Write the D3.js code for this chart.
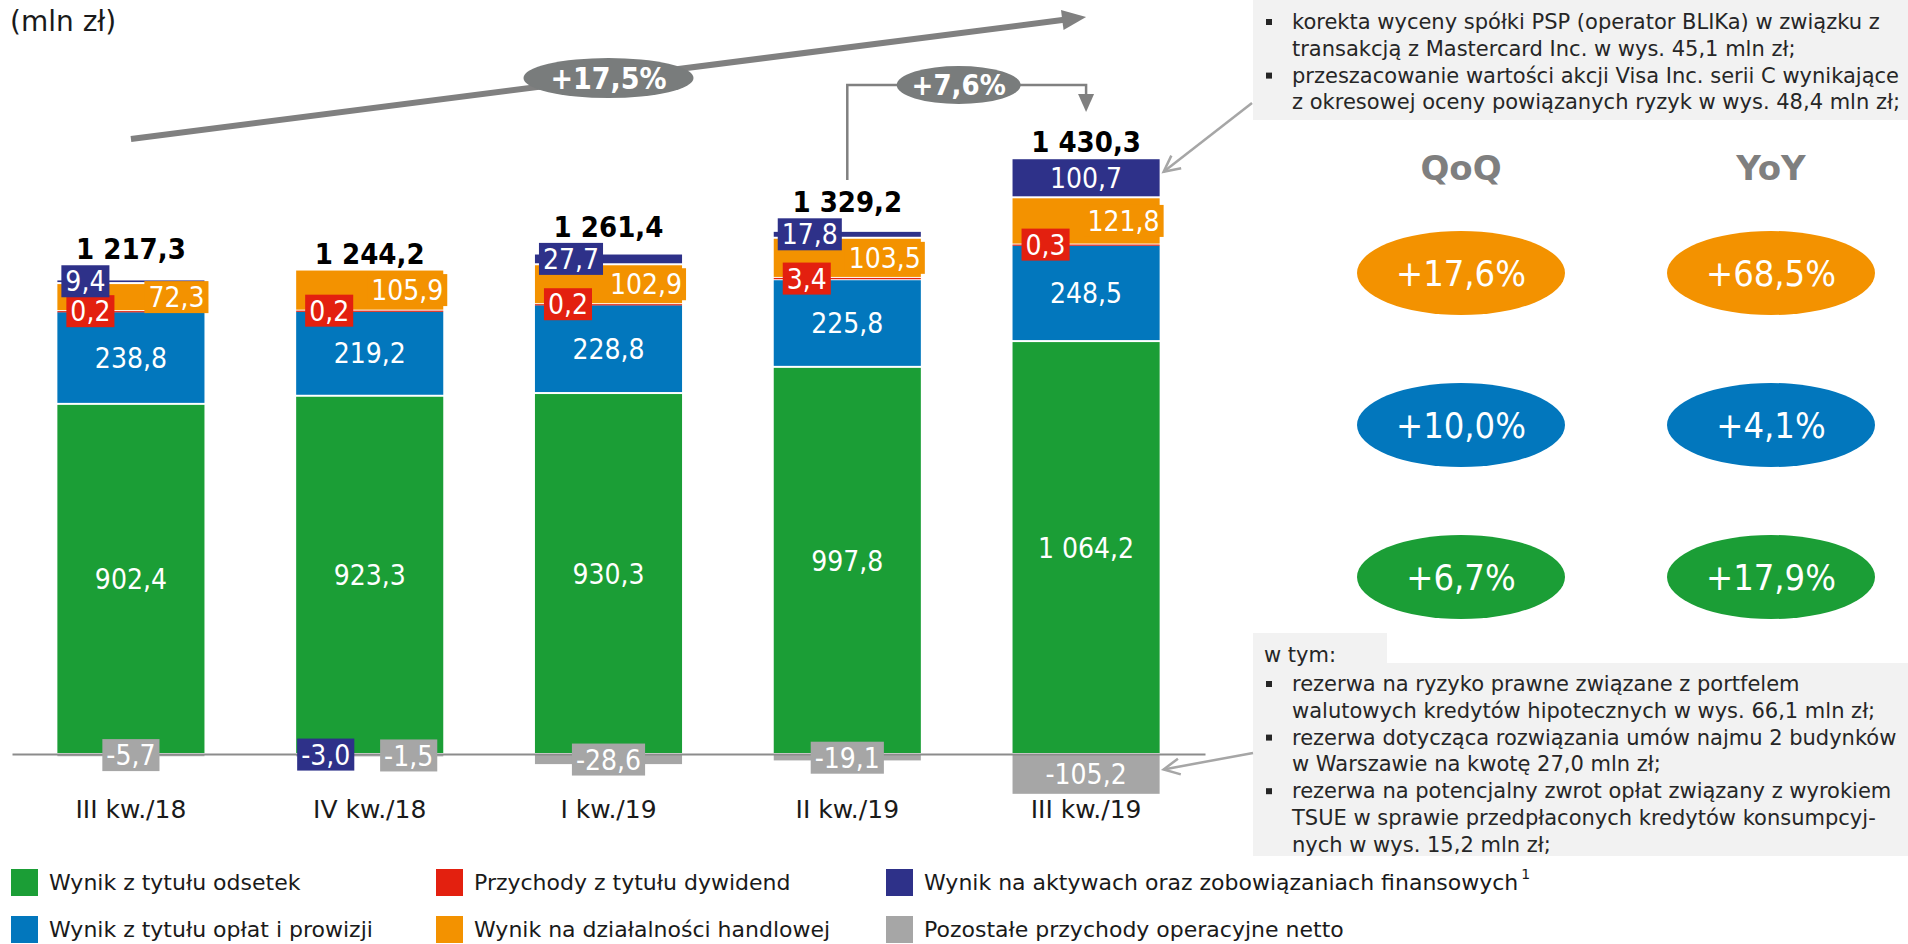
<!DOCTYPE html>
<html><head><meta charset="utf-8">
<script src="https://cdn.jsdelivr.net/npm/d3@7"></script>
<style>
html,body{margin:0;padding:0;background:#fff;}
svg{display:block;font-family:'DejaVu Sans Condensed','DejaVu Sans',sans-serif;}
</style></head><body>
<svg id="chart" width="1908" height="944"></svg>
<script>
// ---------- data ----------
const categories = ["III kw./18", "IV kw./18", "I kw./19", "II kw./19", "III kw./19"];
const odsetek   = [902.4, 923.3, 930.3, 997.8, 1064.2];
const prowizje  = [238.8, 219.2, 228.8, 225.8, 248.5];
const dywidendy = [0.2, 0.2, 0.2, 3.4, 0.3];
const handlowa  = [72.3, 105.9, 102.9, 103.5, 121.8];
const aktywa    = [9.4, -3.0, 27.7, 17.8, 100.7];
const pozostale = [-5.7, -1.5, -28.6, -19.1, -105.2];
const totals    = [1217.3, 1244.2, 1261.4, 1329.2, 1430.3];

const growthTotal = "+17,5%";
const growthQoQ = "+7,6%";
const panelHeaders = ["QoQ", "YoY"];
const qoqValues = ["+17,6%", "+10,0%", "+6,7%"];
const yoyValues = ["+68,5%", "+4,1%", "+17,9%"];

const seriesNames = {
  odsetek: "Wynik z tytułu odsetek",
  prowizje: "Wynik z tytułu opłat i prowizji",
  dywidendy: "Przychody z tytułu dywidend",
  handlowa: "Wynik na działalności handlowej",
  aktywa: "Wynik na aktywach oraz zobowiązaniach finansowych",
  pozostale: "Pozostałe przychody operacyjne netto"
};
const legendRow1 = ["odsetek", "dywidendy", "aktywa"];
const legendRow2 = ["prowizje", "handlowa", "pozostale"];

const noteTop = [
  ["korekta wyceny spółki PSP (operator BLIKa) w związku z", "transakcją z Mastercard Inc. w wys. 45,1 mln zł;"],
  ["przeszacowanie wartości akcji Visa Inc. serii C wynikające", "z okresowej oceny powiązanych ryzyk w wys. 48,4 mln zł;"]
];
const noteBottomHead = "w tym:";
const noteBottom = [
  ["rezerwa na ryzyko prawne związane z portfelem", "walutowych kredytów hipotecznych w wys. 66,1 mln zł;"],
  ["rezerwa dotycząca rozwiązania umów najmu 2 budynków", "w Warszawie na kwotę 27,0 mln zł;"],
  ["rezerwa na potencjalny zwrot opłat związany z wyrokiem", "TSUE w sprawie przedpłaconych kredytów konsumpcyj-", "nych w wys. 15,2 mln zł;"]
];
const unitLabel = "(mln zł)";

// ---------- styles ----------
const colors = {
  odsetek: "#1b9e36", prowizje: "#0277bd", dywidendy: "#e3200f",
  handlowa: "#f39200", aktywa: "#2e3189", pozostale: "#a6a6a6"
};
const keys = ["odsetek", "prowizje", "dywidendy", "handlowa", "aktywa", "pozostale"];
const FONT = "'DejaVu Sans Condensed','DejaVu Sans',sans-serif";
const FONTW = "'DejaVu Sans','Verdana',sans-serif";

const svg = d3.select("#chart");
svg.append("rect").attr("width", 1908).attr("height", 944).attr("fill", "#fff");

const pl = d3.formatLocale({decimal: ",", thousands: " ", grouping: [3], currency: ["", " zł"], minus: "-"});
const fmt = pl.format(",.1f");

// ---------- scales ----------
const x = d3.scaleBand().domain(categories).range([12, 1205]).paddingInner(0.384).paddingOuter(0.19);
const y = d3.scaleLinear().domain([0, 1500]).range([754, 172]);
const bw = x.bandwidth();

const rows = categories.map((c, i) => ({
  cat: c, odsetek: odsetek[i], prowizje: prowizje[i], dywidendy: dywidendy[i],
  handlowa: handlowa[i], aktywa: aktywa[i], pozostale: pozostale[i]
}));
const stacked = d3.stack().keys(keys).offset(d3.stackOffsetDiverging)(rows);

// ---------- bars ----------
const gBars = svg.append("g");
stacked.forEach(layer => {
  gBars.selectAll(null).data(layer).enter().append("rect")
    .attr("x", d => x(d.data.cat))
    .attr("width", bw)
    .attr("y", d => {
      const top = y(Math.max(d[0], d[1])), bot = y(Math.min(d[0], d[1]));
      return (bot - top) > 3 ? top + 1 : top;
    })
    .attr("height", d => {
      const h = Math.abs(y(d[0]) - y(d[1]));
      return h > 3 ? h - 2 : Math.max(h, 1.2);
    })
    .attr("fill", colors[layer.key]);
});

// ---------- axis ----------
const gx = svg.append("g").attr("transform", `translate(0,${y(0)})`)
  .call(d3.axisBottom(x).tickSize(0).tickSizeOuter(0).tickPadding(46));
gx.attr("font-family", FONTW).attr("font-size", 25);
gx.select(".domain").attr("stroke", "#8c8c8c").attr("stroke-width", 2.2);
gx.selectAll(".tick text").attr("fill", "#1a1a1a");

// ---------- segment labels ----------
const gLab = svg.append("g").attr("font-size", 28).attr("font-family", FONT);
const minTop = categories.map((c, i) => {
  let t = y(0);
  stacked.forEach(l => { t = Math.min(t, y(Math.max(l[i][0], l[i][1]))); });
  return t;
});
const BOXH = 32, PAD = 4;
function plain(text, cx, cy) {
  gLab.append("text").text(text).attr("x", cx).attr("y", cy).attr("dy", "0.36em")
    .attr("text-anchor", "middle").attr("fill", "#fff");
}
function boxed(text, color, ax, anchor, cy, i) {
  const g = gLab.append("g");
  const r = g.append("rect").attr("fill", color);
  const t = g.append("text").text(text).attr("fill", "#fff").attr("text-anchor", "middle")
    .attr("y", cy).attr("dy", "0.36em");
  const w = t.node().getComputedTextLength() + 2 * PAD;
  const left = anchor === "start" ? ax : anchor === "middle" ? ax - w / 2 : ax - w;
  r.attr("x", left).attr("y", cy - BOXH / 2).attr("width", w).attr("height", BOXH);
  t.attr("x", left + w / 2);
  minTop[i] = Math.min(minTop[i], cy - BOXH / 2);
}
stacked.forEach(layer => {
  const k = layer.key;
  layer.forEach((d, i) => {
    const v = d.data[k];
    if (!v) return;
    const top = y(Math.max(d[0], d[1])), bot = y(Math.min(d[0], d[1]));
    const cy = (top + bot) / 2, h = bot - top;
    const bx0 = x(d.data.cat), bx1 = bx0 + bw, cx = bx0 + bw / 2;
    const txt = fmt(v);
    if (k === "odsetek" || k === "prowizje") plain(txt, cx, cy);
    else if (k === "handlowa") boxed(txt, colors[k], bx1 + 4, "end", cy, i);
    else if (k === "dywidendy") boxed(txt, colors[k], bx0 + 9, "start", cy, i);
    else if (k === "aktywa") {
      if (h >= 30) plain(txt, cx, cy);
      else if (v < 0) boxed(txt, colors[k], bx0 + 1, "start", cy, i);
      else boxed(txt, colors[k], bx0 + 4, "start", cy, i);
    } else if (k === "pozostale") {
      if (h >= 30) plain(txt, cx, cy);
      else if (d.data.aktywa < 0) boxed(txt, colors[k], bx1 - 6, "end", cy, i);
      else boxed(txt, colors[k], cx, "middle", cy, i);
    }
  });
});

// ---------- totals ----------
svg.append("g").attr("font-family", FONT).attr("font-size", 29).attr("font-weight", "bold")
  .selectAll("text").data(totals).enter().append("text")
  .attr("x", (d, i) => x(categories[i]) + bw / 2)
  .attr("y", (d, i) => minTop[i] - 6)
  .attr("text-anchor", "middle").attr("fill", "#000")
  .text(d => fmt(d));

// ---------- growth arrows ----------
const cxs = categories.map(c => x(c) + bw / 2);
const gArr = svg.append("g");
function arrowHead(g, tipX, tipY, fromX, fromY, len, half, color, filled, sw) {
  const ang = Math.atan2(tipY - fromY, tipX - fromX);
  const bx = tipX - len * Math.cos(ang), by = tipY - len * Math.sin(ang);
  const px = -Math.sin(ang) * half, py = Math.cos(ang) * half;
  if (filled) {
    g.append("path").attr("d", `M${tipX},${tipY}L${bx + px},${by + py}L${bx - px},${by - py}Z`).attr("fill", color);
  } else {
    g.append("path").attr("d", `M${bx + px},${by + py}L${tipX},${tipY}L${bx - px},${by - py}`)
      .attr("fill", "none").attr("stroke", color).attr("stroke-width", sw);
  }
}
const a0 = [cxs[0], 139], a1 = [cxs[4], 17];
gArr.append("line").attr("x1", a0[0]).attr("y1", a0[1]).attr("x2", a1[0] - 18).attr("y2", a1[1] + 2.3)
  .attr("stroke", "#808080").attr("stroke-width", 6);
arrowHead(gArr, a1[0], a1[1], a0[0], a0[1], 24, 10, "#808080", true);
const mx = (a0[0] + a1[0]) / 2, my = (a0[1] + a1[1]) / 2;
gArr.append("ellipse").attr("cx", mx).attr("cy", my).attr("rx", 85).attr("ry", 20).attr("fill", "#797c7c");
gArr.append("text").attr("x", mx).attr("y", my).attr("dy", "0.36em").attr("text-anchor", "middle")
  .attr("font-family", FONT).attr("font-weight", "bold").attr("font-size", 30).attr("fill", "#fff").text(growthTotal);
const cy0 = 85;
gArr.append("path").attr("d", `M${cxs[3]},180V${cy0}H${cxs[4]}V98`)
  .attr("fill", "none").attr("stroke", "#808080").attr("stroke-width", 2.5);
arrowHead(gArr, cxs[4], 112, cxs[4], 80, 18, 8, "#808080", true);
const qx = (cxs[3] + cxs[4]) / 2 - 8;
gArr.append("ellipse").attr("cx", qx).attr("cy", cy0).attr("rx", 62).attr("ry", 19).attr("fill", "#797c7c");
gArr.append("text").attr("x", qx).attr("y", cy0).attr("dy", "0.36em").attr("text-anchor", "middle")
  .attr("font-family", FONT).attr("font-weight", "bold").attr("font-size", 29).attr("fill", "#fff").text(growthQoQ);

// ---------- unit label ----------
svg.append("text").attr("x", 10).attr("y", 31).attr("font-family", FONTW).attr("font-size", 28)
  .attr("fill", "#1a1a1a").text(unitLabel);

// ---------- notes ----------
const gN = svg.append("g").attr("font-family", FONTW).attr("font-size", 21).attr("fill", "#262626");
const LH = 26.8;
gN.append("rect").attr("x", 1253).attr("y", 0).attr("width", 655).attr("height", 120).attr("fill", "#f2f2f2");
let ly = 29;
noteTop.forEach(item => {
  item.forEach((line, j) => {
    if (j === 0) gN.append("rect").attr("x", 1266).attr("y", ly - 10).attr("width", 6).attr("height", 6).attr("fill", "#262626");
    gN.append("text").attr("x", 1292).attr("y", ly).text(line);
    ly += LH;
  });
});
gN.append("rect").attr("x", 1253).attr("y", 633).attr("width", 134).attr("height", 32).attr("fill", "#f2f2f2");
gN.append("rect").attr("x", 1253).attr("y", 663).attr("width", 655).attr("height", 193).attr("fill", "#f2f2f2");
gN.append("text").attr("x", 1264).attr("y", 662).text(noteBottomHead);
ly = 691;
noteBottom.forEach(item => {
  item.forEach((line, j) => {
    if (j === 0) gN.append("rect").attr("x", 1266).attr("y", ly - 10).attr("width", 6).attr("height", 6).attr("fill", "#262626");
    gN.append("text").attr("x", 1292).attr("y", ly).text(line);
    ly += LH;
  });
});
const last = rows.length - 1;
const navyL = stacked[keys.indexOf("aktywa")][last];
const grayL = stacked[keys.indexOf("pozostale")][last];
const bxr = x(categories[last]) + bw;
const t1 = [bxr + 4, (y(navyL[0]) + y(navyL[1])) / 2 - 6];
const t2 = [bxr + 4, (y(grayL[0]) + y(grayL[1])) / 2 - 5];
const gP = svg.append("g");
gP.append("line").attr("x1", 1252).attr("y1", 103).attr("x2", t1[0]).attr("y2", t1[1]).attr("stroke", "#a6a6a6").attr("stroke-width", 2.5);
arrowHead(gP, t1[0], t1[1], 1252, 103, 16, 8, "#a6a6a6", false, 2.5);
gP.append("line").attr("x1", 1253).attr("y1", 753).attr("x2", t2[0]).attr("y2", t2[1]).attr("stroke", "#a6a6a6").attr("stroke-width", 2.5);
arrowHead(gP, t2[0], t2[1], 1253, 753, 16, 8, "#a6a6a6", false, 2.5);

// ---------- QoQ / YoY panel ----------
const colX = [1461, 1771];
const rowY = [273, 425, 577];
const rowColors = [colors.handlowa, colors.prowizje, colors.odsetek];
const gR = svg.append("g").attr("font-family", FONT);
panelHeaders.forEach((h, j) => {
  gR.append("text").attr("x", colX[j]).attr("y", 180).attr("text-anchor", "middle")
    .attr("font-family", FONTW).attr("font-size", 34).attr("font-weight", "bold").attr("fill", "#7f7f7f").text(h);
});
[qoqValues, yoyValues].forEach((vals, j) => {
  vals.forEach((v, r) => {
    gR.append("ellipse").attr("cx", colX[j]).attr("cy", rowY[r]).attr("rx", 104).attr("ry", 42).attr("fill", rowColors[r]);
    gR.append("text").attr("x", colX[j]).attr("y", rowY[r]).attr("dy", "0.36em").attr("text-anchor", "middle")
      .attr("font-size", 36).attr("fill", "#fff").text(v);
  });
});

// ---------- legend ----------
const gL = svg.append("g").attr("font-family", FONTW).attr("font-size", 22).attr("fill", "#1a1a1a");
const legX = [11, 436, 886];
[[legendRow1, 882], [legendRow2, 929]].forEach(([row, cy]) => {
  row.forEach((k, j) => {
    gL.append("rect").attr("x", legX[j]).attr("y", cy - 13).attr("width", 27).attr("height", 27).attr("fill", colors[k]);
    const t = gL.append("text").attr("x", legX[j] + 38).attr("y", cy + 8).text(seriesNames[k]);
    if (k === "aktywa") t.append("tspan").attr("dy", -11).attr("dx", 3).attr("font-size", 14).text("1");
  });
});
</script>
</body></html>
